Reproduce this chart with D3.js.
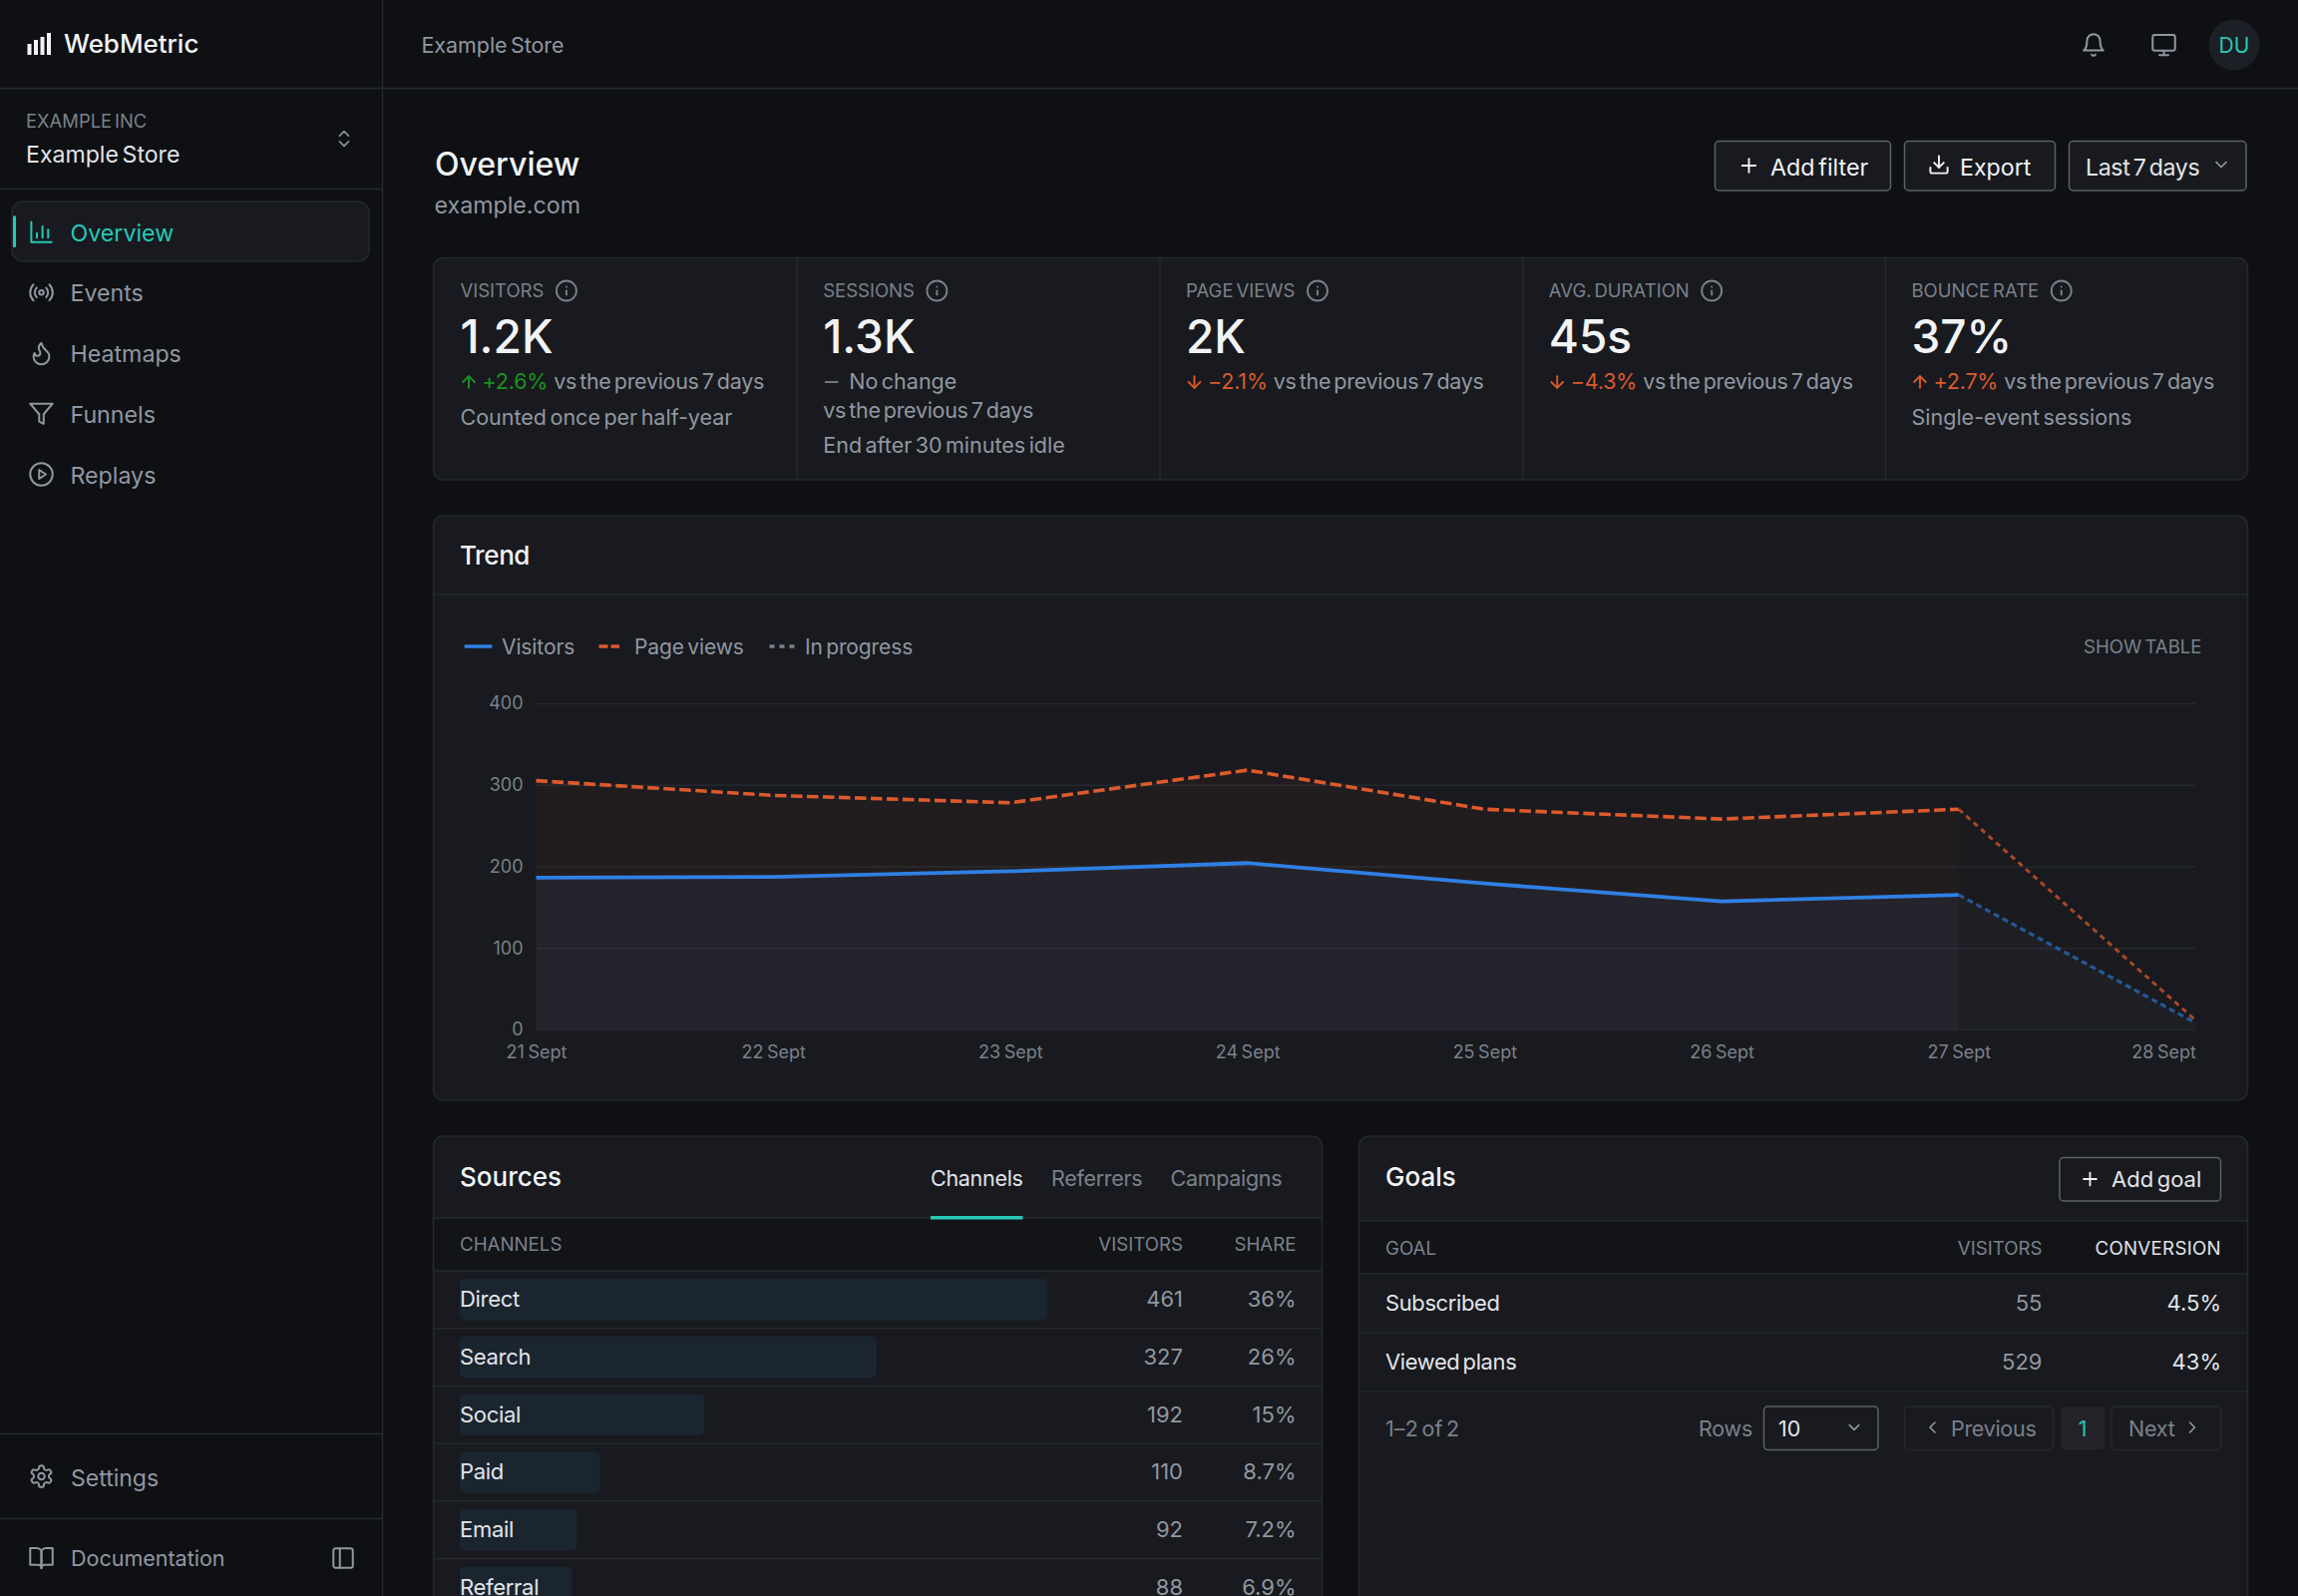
<!DOCTYPE html>
<html>
<head>
<meta charset="utf-8">
<title>WebMetric</title>
<script src="https://cdn.jsdelivr.net/npm/d3@7/dist/d3.min.js"></script>
<style>
html, body { margin: 0; padding: 0; background: #0e1014; overflow: hidden; }
svg { display: block; }
text { font-family: Inter, "Noto Sans", sans-serif; }
</style>
</head>
<body>
<div id="chart"></div>
<script>
// chart data
var dates = ["21 Sept", "22 Sept", "23 Sept", "24 Sept", "25 Sept", "26 Sept", "27 Sept", "28 Sept"];
var visitors = [186, 187, 194, 204, 179, 157, 165, 8];
var pageViews = [305, 287, 278, 318, 270, 258, 270, 11];
var yTicks = [0, 100, 200, 300, 400];

var kpiLabels = ["VISITORS", "SESSIONS", "PAGE VIEWS", "AVG. DURATION", "BOUNCE RATE"];
var kpiValues = ["1.2K", "1.3K", "2K", "45s", "37%"];
var kpiDeltas = ["+2.6%", "No change", "−2.1%", "−4.3%", "+2.7%"];
var kpiTrend = ["up", "flat", "down", "down", "up"];
var kpiTone = ["good", "flat", "bad", "bad", "bad"];
var kpiNotes = ["Counted once per half-year", "End after 30 minutes idle", "", "", "Single-event sessions"];

var navLabels = ["Overview", "Events", "Heatmaps", "Funnels", "Replays"];
var tabLabels = ["Channels", "Referrers", "Campaigns"];

var channelNames = ["Direct", "Search", "Social", "Paid", "Email", "Referral"];
var channelVisitors = [461, 327, 192, 110, 92, 88];
var channelShare = ["36%", "26%", "15%", "8.7%", "7.2%", "6.9%"];

var goalNames = ["Subscribed", "Viewed plans"];
var goalVisitors = [55, 529];
var goalConversion = ["4.5%", "43%"];

// colours
var bg = "#0e1014", panel = "#181a1f", head = "#121418", line = "#25282e", btnLine = "#5b6069";
var white = "#f1f3f5", soft = "#e2e4e8", muted = "#9197a0", dim = "#7b818a";
var teal = "#25c9b7", blue = "#2f80e4", orange = "#dc5a2d", green = "#1b931f";

var icons = {
    chart: ["M3 3v18h18", "M8 17v-4", "M13 17V7", "M18 17v-7"],
    radio: ["M4.9 19.1C1 15.2 1 8.8 4.9 4.9", "M7.8 16.2c-2.3-2.3-2.3-6.1 0-8.5", "M16.2 7.8c2.3 2.3 2.3 6.1 0 8.5", "M19.1 4.9C23 8.8 23 15.1 19.1 19", "M14 12a2 2 0 1 1-4 0a2 2 0 1 1 4 0"],
    flame: ["M8.5 14.5A2.5 2.5 0 0 0 11 12c0-1.38-.5-2-1-3-1.072-2.143-.224-4.054 2-6 .5 2.5 2 4.9 4 6.5 2 1.6 3 3.5 3 5.5a7 7 0 1 1-14 0c0-1.153.433-2.294 1-3a2.5 2.5 0 0 0 2.5 2.5z"],
    filter: ["M22 3H2l8 9.46V19l4 2v-8.54L22 3z"],
    play: ["M22 12a10 10 0 1 1-20 0a10 10 0 1 1 20 0", "M10 8l6 4-6 4V8z"],
    gear: ["M12.22 2h-.44a2 2 0 0 0-2 2v.18a2 2 0 0 1-1 1.73l-.43.25a2 2 0 0 1-2 0l-.15-.08a2 2 0 0 0-2.73.73l-.22.38a2 2 0 0 0 .73 2.73l.15.1a2 2 0 0 1 1 1.72v.51a2 2 0 0 1-1 1.74l-.15.09a2 2 0 0 0-.73 2.73l.22.38a2 2 0 0 0 2.73.73l.15-.08a2 2 0 0 1 2 0l.43.25a2 2 0 0 1 1 1.73V20a2 2 0 0 0 2 2h.44a2 2 0 0 0 2-2v-.18a2 2 0 0 1 1-1.73l.43-.25a2 2 0 0 1 2 0l.15.08a2 2 0 0 0 2.73-.73l.22-.39a2 2 0 0 0-.73-2.73l-.15-.08a2 2 0 0 1-1-1.74v-.5a2 2 0 0 1 1-1.74l.15-.09a2 2 0 0 0 .73-2.73l-.22-.38a2 2 0 0 0-2.73-.73l-.15.08a2 2 0 0 1-2 0l-.43-.25a2 2 0 0 1-1-1.73V4a2 2 0 0 0-2-2z", "M15 12a3 3 0 1 1-6 0a3 3 0 1 1 6 0"],
    book: ["M2 3h6a4 4 0 0 1 4 4v14a3 3 0 0 0-3-3H2z", "M22 3h-6a4 4 0 0 0-4 4v14a3 3 0 0 1 3-3h7z"],
    panel: ["M5 3h14a2 2 0 0 1 2 2v14a2 2 0 0 1-2 2H5a2 2 0 0 1-2-2V5a2 2 0 0 1 2-2z", "M9 3v18"],
    bell: ["M6 8a6 6 0 0 1 12 0c0 7 3 9 3 9H3s3-2 3-9", "M10.3 21a1.94 1.94 0 0 0 3.4 0"],
    monitor: ["M4 3h16a2 2 0 0 1 2 2v10a2 2 0 0 1-2 2H4a2 2 0 0 1-2-2V5a2 2 0 0 1 2-2z", "M8 21h8", "M12 17v4"],
    plus: ["M5 12h14", "M12 5v14"],
    download: ["M21 15v4a2 2 0 0 1-2 2H5a2 2 0 0 1-2-2v-4", "M7 10l5 5 5-5", "M12 15V3"],
    down: ["M6 9l6 6 6-6"],
    updown: ["M7 15l5 5 5-5", "M7 9l5-5 5 5"],
    left: ["M15 18l-6-6 6-6"],
    right: ["M9 18l6-6-6-6"],
    info: ["M22 12a10 10 0 1 1-20 0a10 10 0 1 1 20 0", "M12 16v-4", "M12 8h.01"],
    arrowup: ["M12 19V5", "M5 12l7-7 7 7"],
    arrowdown: ["M12 5v14", "M19 12l-7 7-7-7"],
    dash: ["M5 12h14"]
};

var svg = d3.select("#chart").append("svg")
    .attr("width", 2304)
    .attr("height", 1600);

// helpers
function txt(parent, x, y, s, size, fill, opts) {
    opts = opts || {};
    return parent.append("text")
        .attr("x", x)
        .attr("y", y)
        .attr("font-size", size)
        .attr("fill", fill)
        .attr("font-weight", opts.weight || 400)
        .attr("letter-spacing", opts.ls || 0)
        .attr("word-spacing", -0.12 * size)
        .attr("text-anchor", opts.anchor || "start")
        .text(s);
}

function icon(parent, name, cx, cy, size, stroke, sw) {
    var k = size / 24;
    var g = parent.append("g")
        .attr("transform", "translate(" + (cx - size / 2) + "," + (cy - size / 2) + ") scale(" + k + ")")
        .attr("fill", "none")
        .attr("stroke", stroke)
        .attr("stroke-width", (sw || 2) / k)
        .attr("stroke-linecap", "round")
        .attr("stroke-linejoin", "round");
    icons[name].forEach(function(d) { g.append("path").attr("d", d); });
    return g;
}

function box(parent, x0, y0, x1, y1, fill, stroke, r, sw) {
    return parent.append("rect")
        .attr("x", x0).attr("y", y0)
        .attr("width", x1 - x0).attr("height", y1 - y0)
        .attr("rx", r || 0)
        .attr("fill", fill)
        .attr("stroke", stroke || "none")
        .attr("stroke-width", sw || 1.5);
}

function hline(parent, x0, x1, y, color) {
    parent.append("line").attr("x1", x0).attr("x2", x1).attr("y1", y).attr("y2", y)
        .attr("stroke", color || line).attr("stroke-width", 1.5);
}

box(svg, 0, 0, 2304, 1600, bg);

// ---- sidebar and top bar
var shell = svg.append("g");
shell.append("line").attr("x1", 383.5).attr("x2", 383.5).attr("y1", 0).attr("y2", 1600).attr("stroke", line).attr("stroke-width", 1.5);
hline(shell, 0, 2304, 88.5);
hline(shell, 0, 383, 189.5);
hline(shell, 0, 383, 1437.5);
hline(shell, 0, 383, 1522.5);

[[27.5, 44, 11], [34, 40, 15], [40.5, 37, 18], [47, 33, 22]].forEach(function(b) {
    box(shell, b[0], b[1], b[0] + 4, b[1] + b[2], white);
});
txt(shell, 64, 53, "WebMetric", 25.9, white, {weight: 500});
txt(shell, 422.5, 53, "Example Store", 21.4, muted);

txt(shell, 26, 128, "EXAMPLE INC", 18.4, dim);
txt(shell, 26, 163, "Example Store", 23.1, soft);
icon(shell, "updown", 345, 139, 22, muted, 1.7);

box(shell, 12, 202, 370, 262, panel, line, 11);
box(shell, 13, 216, 16, 248, teal, null, 1.5);
var navIcons = ["chart", "radio", "flame", "filter", "play"];
var navY = d3.scaleLinear().domain([0, 4]).range([241.5, 484.5]);
navLabels.forEach(function(d, i) {
    var c = i == 0 ? teal : muted;
    icon(shell, navIcons[i], 41.5, navY(i) - 9, 27, c, 2);
    txt(shell, 70.5, navY(i), d, 23.2, c);
});
icon(shell, "gear", 41.5, 1480, 26, muted, 2);
txt(shell, 71, 1490, "Settings", 23, muted);
icon(shell, "book", 41.5, 1562, 27, muted, 2);
txt(shell, 71, 1570, "Documentation", 21.5, muted);
icon(shell, "panel", 344, 1562, 26, muted, 2);

icon(shell, "bell", 2099, 45, 26, muted, 2);
icon(shell, "monitor", 2169.5, 45, 27, muted, 2);
shell.append("circle").attr("cx", 2240).attr("cy", 45).attr("r", 25.5).attr("fill", "#1c1f25");
txt(shell, 2240, 53, "DU", 21, teal, {anchor: "middle"});

// ---- page title and buttons
var top_ = svg.append("g");
txt(top_, 436, 176, "Overview", 32, white, {weight: 500});
txt(top_, 435.5, 214, "example.com", 23.2, muted);

box(top_, 1719.5, 141.5, 1895.5, 191, panel, btnLine, 4);
icon(top_, "plus", 1753.5, 166, 23, white, 1.9);
txt(top_, 1775, 176, "Add filter", 23.3, white);
box(top_, 1909.5, 141.5, 2060.5, 191, panel, btnLine, 4);
icon(top_, "download", 1944, 165, 23, white, 1.9);
txt(top_, 1965, 176, "Export", 23.2, white);
box(top_, 2074.5, 141.5, 2252, 191, panel, btnLine, 4);
txt(top_, 2091, 176, "Last 7 days", 23.2, soft, {ls: -0.4});
icon(top_, "down", 2227, 165, 20, muted, 1.7);

// ---- KPI strip
var kpi = svg.append("g");
box(kpi, 434.5, 258.5, 2253.5, 481, panel, line, 10);
var kpiX = d3.scaleLinear().domain([0, 4]).range([435.5, 1890.5]);
var kpiText = 26;

kpiLabels.forEach(function(label, i) {
    var x = kpiX(i) + kpiText;
    if (i > 0) {
        kpi.append("line").attr("x1", kpiX(i)).attr("x2", kpiX(i)).attr("y1", 259).attr("y2", 481)
            .attr("stroke", line).attr("stroke-width", 1.5);
    }
    var lab = txt(kpi, x, 298, label, 18.5, dim);
    icon(kpi, "info", x + lab.node().getComputedTextLength() + 22.5, 291.5, 24, dim, 1.9);
    txt(kpi, x, 354, kpiValues[i], 46, white, {weight: 500});

    var tone = kpiTone[i] == "good" ? green : orange;
    if (kpiTrend[i] == "flat") {
        icon(kpi, "dash", x + 8.5, 383, 21, muted, 1.6);
        txt(kpi, x + 26, 390, kpiDeltas[i], 21.5, muted);
        txt(kpi, x, 418.5, "vs the previous 7 days", 21.5, muted, {ls: -0.3});
        txt(kpi, x, 453.5, kpiNotes[i], 21.5, muted);
    } else {
        icon(kpi, kpiTrend[i] == "up" ? "arrowup" : "arrowdown", x + 8.5, 383, 20, tone, 1.9);
        var delta = txt(kpi, x + 22, 390, kpiDeltas[i], 21.5, tone, {ls: -0.2});
        txt(kpi, x + 22 + delta.node().getComputedTextLength() + 6, 390, "vs the previous 7 days", 21.5, muted, {ls: -0.3});
        if (kpiNotes[i]) txt(kpi, x, 425.5, kpiNotes[i], 21.5, muted);
    }
});

// ---- trend card
var trend = svg.append("g");
box(trend, 434.5, 517, 2253.5, 1103, panel, line, 10);
hline(trend, 435, 2253, 596);
txt(trend, 461, 566, "Trend", 26, white, {weight: 500, ls: -0.4});

// legend
trend.append("line").attr("x1", 467).attr("x2", 492).attr("y1", 648).attr("y2", 648).attr("stroke", blue).attr("stroke-width", 3.4).attr("stroke-linecap", "round");
txt(trend, 503, 655.5, "Visitors", 21, muted, {ls: -0.1});
trend.append("line").attr("x1", 600.5).attr("x2", 621).attr("y1", 648).attr("y2", 648).attr("stroke", orange).attr("stroke-width", 3.4).attr("stroke-dasharray", "9 3");
txt(trend, 636, 655.5, "Page views", 21, muted, {ls: -0.1});
trend.append("line").attr("x1", 771.5).attr("x2", 797).attr("y1", 648).attr("y2", 648).attr("stroke", dim).attr("stroke-width", 3.4).attr("stroke-dasharray", "5 5");
txt(trend, 807, 655.5, "In progress", 21, muted, {ls: -0.1});
txt(trend, 2207.5, 654.5, "SHOW TABLE", 18.6, dim, {anchor: "end"});

// define scales
var scaleX = d3.scalePoint().domain(dates).range([537.5, 2201.5]);
var scaleY = d3.scaleLinear().domain([0, 400]).range([1032, 705]);

// define the axis
var axisY = d3.axisLeft(scaleY).tickValues(yTicks).tickSize(-(2201.5 - 537.5)).tickPadding(13);
var axisX = d3.axisBottom(scaleX).tickSize(0).tickPadding(16);

var gy = trend.append("g").attr("transform", "translate(537.5,0)").call(axisY);
gy.select(".domain").remove();
gy.selectAll(".tick line").attr("stroke", line).attr("stroke-width", 1.5);
gy.selectAll(".tick text").attr("fill", dim).attr("font-size", 18).attr("font-family", "Inter");

var solidCount = dates.length - 1;
var lastIdx = [dates.length - 2, dates.length - 1];
function row(i) { return {date: dates[i], v: visitors[i], p: pageViews[i]}; }
var solid = d3.range(solidCount).map(row);
var ghost = lastIdx.map(row);

var areaP = d3.area().x(function(d) { return scaleX(d.date); }).y0(scaleY(0)).y1(function(d) { return scaleY(d.p); });
var areaV = d3.area().x(function(d) { return scaleX(d.date); }).y0(scaleY(0)).y1(function(d) { return scaleY(d.v); });
var lineP = d3.line().x(function(d) { return scaleX(d.date); }).y(function(d) { return scaleY(d.p); });
var lineV = d3.line().x(function(d) { return scaleX(d.date); }).y(function(d) { return scaleY(d.v); });

var plot = trend.append("g");
plot.append("path").datum(solid).attr("d", areaP).attr("fill", orange).attr("fill-opacity", 0.05);
plot.append("path").datum(solid).attr("d", areaV).attr("fill", "#6a7fd0").attr("fill-opacity", 0.07);
plot.append("path").datum(ghost).attr("d", areaP).attr("fill", orange).attr("fill-opacity", 0.015);
plot.append("path").datum(ghost).attr("d", areaV).attr("fill", "#9fb4ff").attr("fill-opacity", 0.035);

plot.append("path").datum(solid).attr("d", lineP).attr("fill", "none").attr("stroke", orange)
    .attr("stroke-width", 3.6).attr("stroke-dasharray", "11.5 4.5");
plot.append("path").datum(solid).attr("d", lineV).attr("fill", "none").attr("stroke", blue)
    .attr("stroke-width", 3.8);
plot.append("path").datum(ghost).attr("d", lineP).attr("fill", "none").attr("stroke", orange).attr("stroke-opacity", 0.72)
    .attr("stroke-width", 3).attr("stroke-dasharray", "5.5 4.5");
plot.append("path").datum(ghost).attr("d", lineV).attr("fill", "none").attr("stroke", blue).attr("stroke-opacity", 0.6)
    .attr("stroke-width", 3.2).attr("stroke-dasharray", "6 4");

var gx = trend.append("g").attr("transform", "translate(0,1032)").call(axisX);
gx.select(".domain").remove();
gx.selectAll(".tick text").attr("fill", dim).attr("font-size", 18).attr("font-family", "Inter").attr("word-spacing", -1.5)
    .attr("text-anchor", function(d, i) { return i == dates.length - 1 ? "end" : "middle"; });

// ---- sources card
var src = svg.append("g");
box(src, 434.5, 1139, 1325.5, 1640, panel, line, 10);
box(src, 435.5, 1221, 1324.5, 1274, head);
hline(src, 435, 1325, 1221);
hline(src, 435, 1325, 1274);
txt(src, 461, 1189, "Sources", 26, white, {weight: 500});
var tabX = [933, 1054, 1173.5];
tabLabels.forEach(function(d, i) {
    txt(src, tabX[i], 1189, d, 21.5, i == 0 ? soft : dim, {ls: -0.3});
});
box(src, 933, 1219, 1025.5, 1222.5, teal);
txt(src, 461, 1254, "CHANNELS", 18.7, dim);
txt(src, 1186, 1254, "VISITORS", 18.7, dim, {anchor: "end"});
txt(src, 1299.5, 1254, "SHARE", 18.7, dim, {anchor: "end"});

var barW = d3.scaleLinear().domain([0, 461]).range([0, 589]);
var rowY = d3.scaleLinear().domain([0, 1]).range([1274, 1331.7]);

src.selectAll(".bar").data(channelVisitors).enter().append("rect")
    .attr("class", "bar")
    .attr("x", 461)
    .attr("y", function(d, i) { return rowY(i) + 8; })
    .attr("width", function(d) { return barW(d); })
    .attr("height", 41.5)
    .attr("rx", 5)
    .attr("fill", "#1a2530");

channelNames.forEach(function(d, i) {
    if (i > 0) hline(src, 435, 1325, rowY(i));
    txt(src, 461, rowY(i) + 36.3, d, 22, soft, {ls: -0.3});
    txt(src, 1186, rowY(i) + 36.3, channelVisitors[i], 22, muted, {anchor: "end"});
    txt(src, 1299.5, rowY(i) + 36.3, channelShare[i], 22, muted, {anchor: "end"});
});

// ---- goals card
var goals = svg.append("g");
box(goals, 1362.5, 1139, 2253.5, 1640, panel, line, 10);
box(goals, 1363.5, 1224, 2252.5, 1277, head);
hline(goals, 1363, 2253, 1224);
hline(goals, 1363, 2253, 1277);
txt(goals, 1389, 1189, "Goals", 26, white, {weight: 500});
box(goals, 2065, 1160.5, 2226.5, 1204, panel, btnLine, 4);
icon(goals, "plus", 2095.5, 1182, 22, white, 1.8);
txt(goals, 2117, 1190, "Add goal", 22, soft);
txt(goals, 1389, 1257.5, "GOAL", 18.7, dim);
txt(goals, 2047.5, 1257.5, "VISITORS", 18.7, dim, {anchor: "end"});
txt(goals, 2227, 1257.5, "CONVERSION", 18.7, soft, {anchor: "end", ls: 0.3});

var goalY = d3.scaleLinear().domain([0, 1]).range([1277, 1336]);
goalNames.forEach(function(d, i) {
    hline(goals, 1363, 2253, goalY(i + 1));
    txt(goals, 1389, goalY(i) + 36.5, d, 22, soft, {ls: -0.4});
    txt(goals, 2047.5, goalY(i) + 36.5, goalVisitors[i], 22, muted, {anchor: "end"});
    txt(goals, 2227, goalY(i) + 36.5, goalConversion[i], 22, soft, {anchor: "end"});
});

txt(goals, 1389, 1440, "1–2 of 2", 21.5, dim, {ls: 0.1});
txt(goals, 1703, 1440, "Rows", 21.5, dim, {ls: -0.2});
box(goals, 1768.5, 1410, 1883, 1453.5, panel, btnLine, 4);
txt(goals, 1783, 1440, "10", 21.5, soft);
icon(goals, "down", 1859, 1431, 19, muted, 1.6);
box(goals, 1909.5, 1410, 2058.5, 1453.5, panel, line, 4);
icon(goals, "left", 1937.5, 1431, 20, muted, 1.6);
txt(goals, 1956, 1440, "Previous", 21.5, dim, {ls: -0.3});
box(goals, 2066, 1410, 2110, 1453.5, "#232329", null, 4);
txt(goals, 2088, 1440, "1", 21.5, teal, {anchor: "middle"});
box(goals, 2117, 1410, 2226.5, 1453.5, panel, line, 4);
txt(goals, 2134, 1440, "Next", 21.5, dim, {ls: -0.2});
icon(goals, "right", 2198, 1431, 20, muted, 1.6);
</script>
</body>
</html>
